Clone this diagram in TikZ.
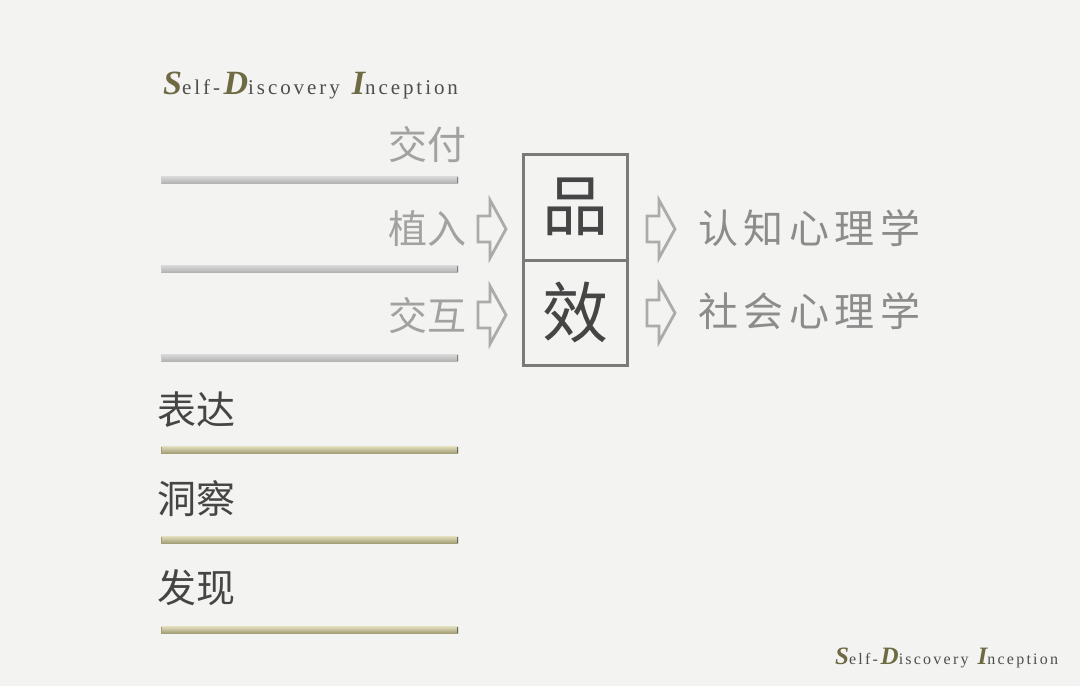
\documentclass[tikz,border=0pt]{standalone}
\usepackage{fontspec}
\setmainfont{Liberation Serif}
\newfontfamily\cjk{Noto Sans CJK SC}
\usetikzlibrary{calc}
\definecolor{paper}{HTML}{F3F3F1}
\definecolor{capolive}{HTML}{6E6A44}
\definecolor{lowgray}{HTML}{4E4E4E}
\definecolor{lightlabel}{HTML}{A2A2A2}
\definecolor{darklabel}{HTML}{454545}
\definecolor{psych}{HTML}{8C8C8C}
\definecolor{boxline}{HTML}{7A7A7A}
\definecolor{arrowgray}{HTML}{ABABAB}
\definecolor{goldtop}{HTML}{DDD9B8}
\definecolor{goldmid}{HTML}{D2CEA6}
\definecolor{goldbot}{HTML}{A29D74}
\newcommand\tcap[2]{{\fontsize{#1}{#1}\selectfont\bfseries\itshape\color{capolive}#2}}
\newcommand\tlow[2]{{\fontsize{#1}{#1}\selectfont\addfontfeatures{LetterSpace=14}\color{lowgray}#2}}
\tikzset{
  lbl/.style={inner sep=0pt, font=\cjk\fontsize{39}{39}\selectfont},
  lightlbl/.style={lbl, text=lightlabel, anchor=east},
  darklbl/.style={lbl, text=darklabel, anchor=west},
  psychlbl/.style={inner sep=0pt, anchor=west, text=psych, font=\cjk\fontsize{40}{40}\selectfont\addfontfeatures{LetterSpace=14}},
  cell/.style={draw=boxline, line width=3pt, minimum width=104pt, inner sep=0pt, text=darklabel, font=\cjk\fontsize{66}{66}\selectfont},
  barbase/.style={inner sep=0pt, minimum width=297pt, minimum height=6.5pt},
  silverbar/.style={barbase, top color=black!16, middle color=white, bottom color=black!30,
     path picture={\draw[line width=1.5pt, black!50] (path picture bounding box.north east) -- (path picture bounding box.south east);
                   \draw[line width=1pt, black!20] (path picture bounding box.north west) -- (path picture bounding box.south west);}},
  goldbar/.style={barbase, top color=goldtop, middle color=goldmid, bottom color=goldbot,
     path picture={\draw[line width=1.5pt, black!60] (path picture bounding box.north east) -- (path picture bounding box.south east);
                   \draw[line width=1pt, goldbot] (path picture bounding box.north west) -- (path picture bounding box.south west);}},
  arrowline/.style={draw=arrowgray, line width=2.8pt, line join=miter},
  blockarrow/.pic={\draw[arrowline] (0,-13) -- (12,-13) -- (12,-29) -- (28,0) -- (12,29) -- (12,13) -- (0,13) -- cycle;}
}
\begin{document}
\begin{tikzpicture}[x=1pt, y=-1pt]
\useasboundingbox (0,0) rectangle (1080,686);
\fill[paper] (0,0) rectangle (1080,686);

% titles
\node[anchor=base west, inner sep=0pt] (titletop) at (163,94)
  {\tcap{34}{S}\tlow{21}{elf-\,}\tcap{34}{D}\tlow{21}{iscovery}\hspace{12pt}\tcap{34}{I}\tlow{21}{nception}};
\node[anchor=base west, inner sep=0pt] (titlebot) at (835,664)
  {\tcap{25}{S}\tlow{16}{elf-\,}\tcap{25}{D}\tlow{16}{iscovery}\hspace{9pt}\tcap{25}{I}\tlow{16}{nception}};

% silver bars
\node[silverbar] (s1) at (309.5,180) {};
\node[silverbar] (s2) at (309.5,269) {};
\node[silverbar] (s3) at (309.5,358) {};
% gold bars
\node[goldbar] (g1) at (309.5,450) {};
\node[goldbar] (g2) at (309.5,540) {};
\node[goldbar] (g3) at (309.5,630) {};

% light labels
\node[lightlbl] (jiaofu) at (467,145) {交付};
\node[lightlbl] (zhiru) at (467,229) {植入};
\node[lightlbl] (jiaohu) at (467,316) {交互};

% dark labels
\node[darklbl] (biaoda) at (157,410) {表达};
\node[darklbl] (dongcha) at (157,499) {洞察};
\node[darklbl] (faxian) at (157,588) {发现};

% central box
\node[cell, minimum height=106pt] (pin) at (575,207) {品};
\node[cell, minimum height=105pt] (xiao) at (575,312.5) {效};

% right labels
\node[psychlbl] (renzhi) at (698,228) {认知心理学};
\node[psychlbl] (shehui) at (698,311) {社会心理学};

% hollow arrows
\path (478,229) pic {blockarrow};
\path (478,315) pic {blockarrow};
\path (647,229) pic {blockarrow};
\path (647,313) pic {blockarrow};
\end{tikzpicture}
\end{document}
